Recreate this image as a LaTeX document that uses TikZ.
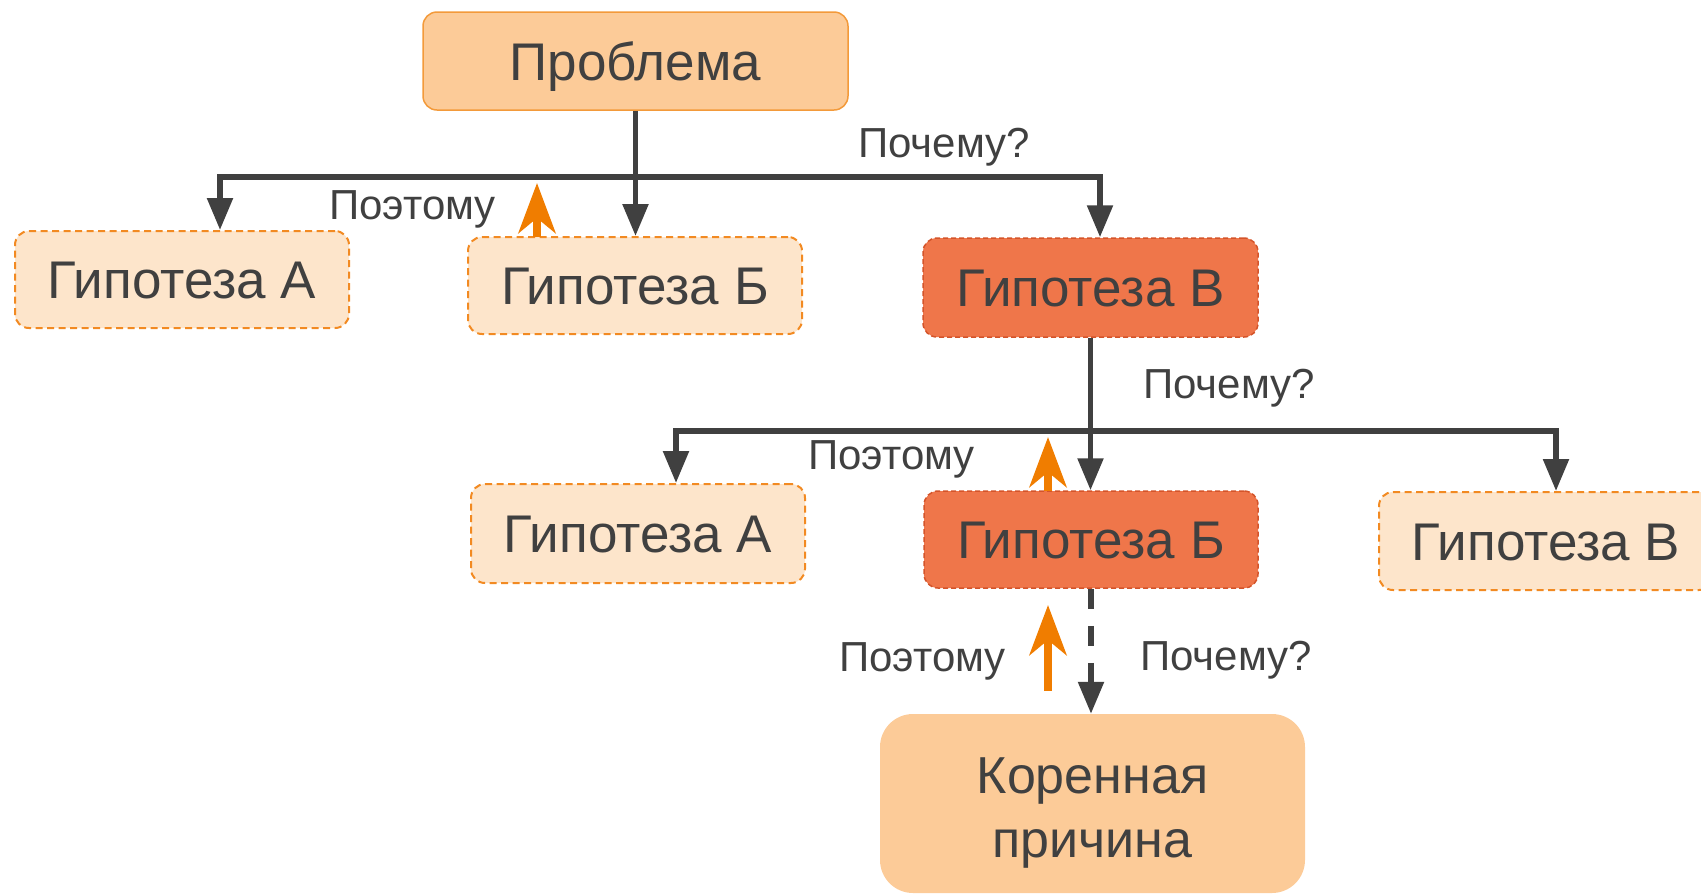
\documentclass[tikz,border=0pt]{standalone}
\usepackage{fontspec}
\setmainfont{Liberation Sans}
\usetikzlibrary{arrows.meta}
\definecolor{ink}{HTML}{404040}
\definecolor{probfill}{HTML}{FCCB98}
\definecolor{probdraw}{HTML}{F39A3A}
\definecolor{hypfill}{HTML}{FDE5CB}
\definecolor{hypdraw}{HTML}{F28A22}
\definecolor{selfill}{HTML}{EF764A}
\definecolor{seldraw}{HTML}{D4542A}
\definecolor{orng}{HTML}{F07D00}
\begin{document}
\begin{tikzpicture}[x=1pt,y=-1pt,
  boxbase/.style={rounded corners=14pt, inner sep=0pt, text=ink,
    font=\fontsize{53}{60}\selectfont, text height=38pt, text depth=0pt},
  probbox/.style={boxbase, fill=probfill, draw=probdraw, line width=1.5pt},
  hypbox/.style={boxbase, fill=hypfill, draw=hypdraw, line width=2pt, dash pattern=on 7pt off 4.5pt},
  selbox/.style={boxbase, fill=selfill, draw=seldraw, line width=1.5pt, dash pattern=on 5pt off 3pt},
  rootbox/.style={rounded corners=33pt, fill=probfill, draw=none, inner sep=0pt},
  rootlbl/.style={text=ink, font=\fontsize{52}{64}\selectfont, align=center, inner sep=0pt},
  lbl/.style={text=ink, font=\fontsize{42}{48}\selectfont, anchor=base west, inner sep=0pt},
  conn/.style={draw=ink, line width=5.5pt, -{Triangle[length=32pt,width=25pt]}},
  conn2/.style={draw=ink, line width=5.5pt, {Triangle[length=32pt,width=25pt]}-{Triangle[length=32pt,width=25pt]}},
  back/.style={draw=orng, line width=8pt, -{Stealth[length=50pt,width=37pt,inset=15pt]}}
]
\clip (0,0) rectangle (1701,895);
\useasboundingbox (0,0) rectangle (1701,895);

% boxes
\node[probbox, minimum width=425pt, minimum height=98pt] (P) at (635.5,61) {Проблема};
\node[hypbox, minimum width=334pt, minimum height=97pt] (a1) at (182,279.5) {Гипотеза А};
\node[hypbox, minimum width=334pt, minimum height=97pt] (b1) at (635,285.5) {Гипотеза Б};
\node[selbox, minimum width=335pt, minimum height=99pt] (c1) at (1090.5,287.5) {Гипотеза В};
\node[hypbox, minimum width=334pt, minimum height=99pt] (a2) at (638,533.5) {Гипотеза А};
\node[selbox, minimum width=334pt, minimum height=97pt] (b2) at (1091,539.5) {Гипотеза Б};
\node[hypbox, minimum width=334pt, minimum height=98pt] (c2) at (1546,541) {Гипотеза В};
\node[rootbox, minimum width=425pt, minimum height=179pt] (root) at (1092.5,803.5) {};
\node[rootlbl, anchor=base] (rootlabel) at (1092.5,857) {Коренная\\причина};

% labels
\node[lbl] (why1) at (858,157) {Почему?};
\node[lbl] (so1) at (329,219) {Поэтому};
\node[lbl] (why2) at (1143,398) {Почему?};
\node[lbl] (so2) at (808,469) {Поэтому};
\node[lbl] (so3) at (839,671) {Поэтому};
\node[lbl] (why3) at (1140,670) {Почему?};

% level 1 connectors
\coordinate (h1L) at (220,177);
\coordinate (h1R) at (1100,177);
\draw[conn] (P.south) -- (P.south |- b1.north);
\draw[conn2] (h1L |- a1.north) -- (h1L) -- (h1R) -- (h1R |- c1.north);

% level 2 connectors
\coordinate (h2L) at (676,431);
\coordinate (h2R) at (1556,431);
\draw[conn] (c1.south) -- (c1.south |- b2.north);
\draw[conn2] (h2L |- a2.north) -- (h2L) -- (h2R) -- (h2R |- c2.north);

% root connector
\draw[conn, dash pattern=on 20pt off 17pt] (b2.south) -- (b2.south |- root.north);

% orange "so" arrows
\coordinate (o1a) at (537,237);
\coordinate (o1b) at (537,183);
\coordinate (o2a) at (1048,491);
\coordinate (o2b) at (1048,437);
\coordinate (o3a) at (1048,691);
\coordinate (o3b) at (1048,605);
\draw[back] (o1a) -- (o1b);
\draw[back] (o2a) -- (o2b);
\draw[back] (o3a) -- (o3b);
\end{tikzpicture}
\end{document}
